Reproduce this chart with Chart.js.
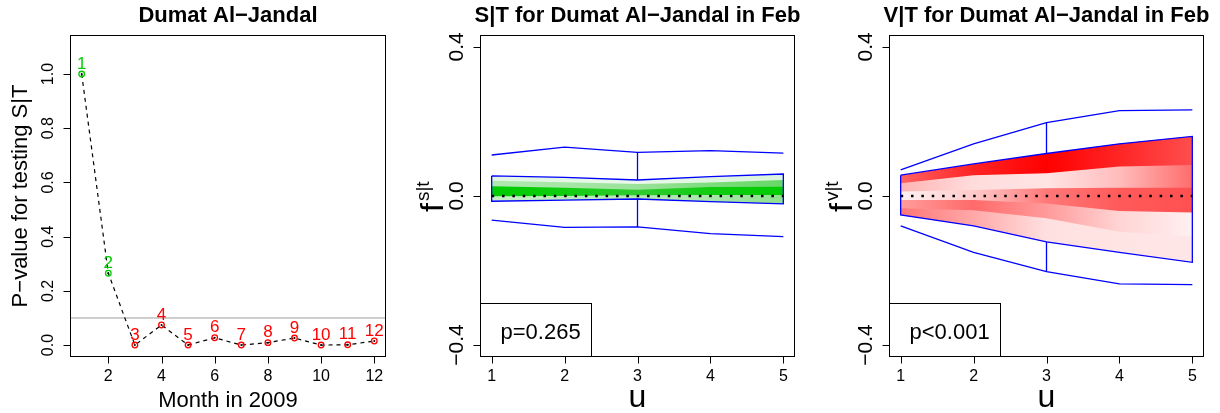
<!DOCTYPE html>
<html lang="en">
<head>
<meta charset="UTF-8">
<title>Dumat Al-Jandal</title>
<script src="https://cdn.jsdelivr.net/npm/chart.js"></script>
<style>
  html,body{margin:0;padding:0;background:#fff;}
  .wrap{position:relative;width:1220px;height:413px;overflow:hidden;background:#fff;}
  .panel{position:absolute;top:0;height:413px;}
  .panel canvas{display:block;}
</style>
</head>
<body>
<div class="wrap">
  <div class="panel" style="left:0;width:410px"><canvas id="pval" width="410" height="413" style="width:410px;height:413px"></canvas></div>
  <div class="panel" style="left:410px;width:400px"><canvas id="st" width="400" height="413" style="width:400px;height:413px"></canvas></div>
  <div class="panel" style="left:810px;width:410px"><canvas id="vt" width="410" height="413" style="width:410px;height:413px"></canvas></div>
</div>
<script>
// ---- data ----
const months = [1, 2, 3, 4, 5, 6, 7, 8, 9, 10, 11, 12];
const pValues = [1.0, 0.265, 0.0, 0.074, 0.0, 0.027, 0.0, 0.009, 0.026, 0.0, 0.001, 0.015];
const alphaLevel = 0.1;
const monthTicks = [2, 4, 6, 8, 10, 12];
const pTicks = [0.0, 0.2, 0.4, 0.6, 0.8, 1.0];

const uValues = [1, 2, 3, 4, 5];
const uTicks = [1, 2, 3, 4, 5];
const fTicks = [-0.4, 0.0, 0.4];
const uMark = 3;
const refLevel = 0;

// S|T in Feb
const stOuterUpper = [0.110, 0.131, 0.117, 0.122, 0.115];
const stOuterLower = [-0.065, -0.084, -0.083, -0.101, -0.109];
const stLevel0 = [0.054, 0.050, 0.043, 0.052, 0.059];
const stLevel1 = [0.041, 0.037, 0.032, 0.036, 0.043];
const stLevel2 = [0.026, 0.022, 0.017, 0.024, 0.025];
const stLevel3 = [-0.001, 0.000, 0.002, 0.003, 0.003];
const stLevel4 = [-0.014, -0.011, -0.008, -0.015, -0.021];
const stPText = 'p=0.265';

// V|T in Feb
const vtOuterUpper = [0.070, 0.140, 0.197, 0.229, 0.231];
const vtOuterLower = [-0.080, -0.151, -0.203, -0.236, -0.238];
const vtLevel0 = [0.056, 0.086, 0.114, 0.140, 0.160];
const vtLevel1 = [0.034, 0.056, 0.061, 0.079, 0.083];
const vtLevel2 = [0.012, 0.016, 0.021, 0.022, 0.022];
const vtLevel3 = [-0.011, -0.011, -0.020, -0.040, -0.044];
const vtLevel4 = [-0.033, -0.038, -0.060, -0.096, -0.109];
const vtLevel5 = [-0.051, -0.080, -0.123, -0.151, -0.178];
const vtPText = 'p<0.001';

// ---- styles ----
const FONT = '"Liberation Sans", Arial, Helvetica, sans-serif';
const GREEN = '#00cd00', RED = '#ff0000', BLUE = '#0000ff';

const greenShades = [
  ['#e2f6e2', '#e4f7e4', '#eaf9ea', '#e0f5e0', '#dcf4dc'],
  ['#b0e8b0', '#a6e6a6', '#9ae29a', '#7cdc7c', '#66d866'],
  ['#00cc00', '#10cc10', '#30cc30', '#10cc10', '#00cc00'],
  ['#c8f0c8', '#bdecbd', '#b8eab8', '#a8e6a8', '#8ee08e']
];
const redShades = [
  ['#ff6262', '#ff2424', '#ff0000', '#ff2525', '#ff4e4e'],
  ['#ffb4b4', '#ffdcdc', '#ffe4e4', '#ffbcbc', '#ff6c6c'],
  ['#fff2f2', '#ffcaca', '#ff7878', '#ff5a5a', '#ff5050'],
  ['#ff9c9c', '#ff6a6a', '#ff9a9a', '#ffd4d4', '#fff0f0'],
  ['#ff7676', '#ffa8a8', '#ffe0e0', '#ffe4e4', '#ffe6e6']
];

const fmt = v => (v < 0 ? '\u2212' : '') + Math.abs(v).toFixed(1);

// R-like frame, ticks, titles
function rAxes(o) {
  return {
    id: 'rAxes',
    beforeDatasetsDraw(chart) {
      if (o.hline === undefined) return;
      const {ctx, chartArea: a, scales: {y}} = chart;
      const py = y.getPixelForValue(o.hline);
      ctx.save();
      ctx.strokeStyle = '#bebebe';
      ctx.lineWidth = 1.4;
      ctx.beginPath();
      ctx.moveTo(a.left, py);
      ctx.lineTo(a.right, py);
      ctx.stroke();
      ctx.restore();
    },
    afterDraw(chart) {
      const {ctx, chartArea: a, scales: {x, y}} = chart;
      ctx.save();
      ctx.strokeStyle = '#000';
      ctx.fillStyle = '#000';
      ctx.lineWidth = 1;
      const L = Math.round(a.left) + 0.5, T = Math.round(a.top) + 0.5;
      const R = Math.round(a.right) - 0.5, B = Math.round(a.bottom) - 0.5;
      ctx.strokeRect(L, T, R - L, B - T);
      ctx.beginPath();
      o.xTicks.forEach(v => {
        const px = Math.round(x.getPixelForValue(v)) + 0.5;
        ctx.moveTo(px, B); ctx.lineTo(px, B + 7);
      });
      o.yTicks.forEach(v => {
        const py = Math.round(y.getPixelForValue(v)) + 0.5;
        ctx.moveTo(L, py); ctx.lineTo(L - 7, py);
      });
      ctx.stroke();

      ctx.textAlign = 'center';
      ctx.textBaseline = 'alphabetic';
      ctx.font = '16px ' + FONT;
      o.xTicks.forEach(v => ctx.fillText(String(v), x.getPixelForValue(v), 381));
      ctx.font = o.yTickFont;
      o.yTicks.forEach(v => {
        ctx.save();
        ctx.translate(a.left - 17, y.getPixelForValue(v));
        ctx.rotate(-Math.PI / 2);
        ctx.fillText(fmt(v), 0, 0);
        ctx.restore();
      });

      const cx = (a.left + a.right) / 2, cy = (a.top + a.bottom) / 2;
      ctx.font = 'bold 22px ' + FONT;
      ctx.fillText(o.title, cx, 22);

      ctx.font = o.xTitleFont;
      ctx.fillText(o.xTitle, cx, 407);

      ctx.save();
      ctx.translate(a.left - o.yTitleGap, cy);
      ctx.rotate(-Math.PI / 2);
      if (o.ySup) {
        // big "f" with a raised superscript right after it
        ctx.textAlign = 'left';
        ctx.font = '32px ' + FONT;
        const wF = ctx.measureText(o.yTitle).width;
        ctx.fillText(o.yTitle, -16, 0);
        ctx.font = '19px ' + FONT;
        ctx.fillText(o.ySup, -16 + wF + 2, -14);
      } else {
        ctx.font = '22px ' + FONT;
        ctx.fillText(o.yTitle, 0, 0);
      }
      ctx.restore();

      if (o.pText) {
        const bx = Math.round(a.left) + 0.5;
        ctx.fillStyle = '#fff';
        ctx.fillRect(bx, 303.5, 111, B - 303.5);
        ctx.strokeRect(bx, 303.5, 111, B - 303.5);
        ctx.fillStyle = '#000';
        ctx.font = '22px ' + FONT;
        ctx.textAlign = 'left';
        ctx.fillText(o.pText, a.left + 20.5, 339);
      }
      ctx.restore();
    }
  };
}

const pointLabels = {
  id: 'pointLabels',
  afterDatasetsDraw(chart) {
    const meta = chart.getDatasetMeta(2);
    const {ctx} = chart;
    ctx.save();
    ctx.font = '17px ' + FONT;
    ctx.textAlign = 'center';
    ctx.textBaseline = 'alphabetic';
    meta.data.forEach((el, i) => {
      ctx.fillStyle = pValues[i] > alphaLevel ? GREEN : RED;
      ctx.fillText(String(months[i]), el.x, el.y - 5.5);
    });
    ctx.restore();
  }
};

const baseOptions = (pad, xr, yr) => ({
  responsive: false,
  animation: false,
  events: [],
  layout: {padding: pad},
  plugins: {legend: {display: false}, tooltip: {enabled: false}, title: {display: false}},
  scales: {
    x: {type: 'linear', min: xr[0], max: xr[1], display: false},
    y: {type: 'linear', min: yr[0], max: yr[1], display: false}
  }
});

// ---- panel 1: p-values by month ----
const pts = months.map((m, i) => ({x: m, y: pValues[i]}));
new Chart(document.getElementById('pval'), {
  type: 'line',
  data: {
    datasets: [
      {data: pts, borderColor: '#000', borderWidth: 1.2, borderDash: [4, 4], pointRadius: 0, fill: false, order: 5},
      {data: pts, showLine: false, pointRadius: 1, pointBackgroundColor: '#000', pointBorderWidth: 0, order: 3},
      {data: pts, showLine: false, pointRadius: 2.8, pointBorderWidth: 1.3,
        pointBackgroundColor: 'rgba(0,0,0,0)',
        pointBorderColor: pValues.map(p => p > alphaLevel ? GREEN : RED), order: 2}
    ]
  },
  options: baseOptions({left: 70, right: 24, top: 35, bottom: 56}, [0.56, 12.44], [-0.044, 1.144]),
  plugins: [rAxes({
    xTicks: monthTicks, yTicks: pTicks, yTickFont: '16px ' + FONT, title: 'Dumat Al\u2212Jandal',
    xTitle: 'Month in 2009', xTitleFont: '22px ' + FONT,
    yTitle: 'P\u2212value for testing S|T', yTitleGap: 43, hline: alphaLevel
  }), pointLabels]
});

// ---- panels 2 and 3: conditional effect cones ----
function gradientFor(chart, cols) {
  const xs = chart.scales.x;
  if (!chart.chartArea || !xs) return cols[0];
  const x0 = xs.getPixelForValue(uValues[0]);
  const x1 = xs.getPixelForValue(uValues[uValues.length - 1]);
  const g = chart.ctx.createLinearGradient(x0, 0, x1, 0);
  uValues.forEach((u, i) => g.addColorStop((xs.getPixelForValue(u) - x0) / (x1 - x0), cols[i]));
  return g;
}

function makeCone(id, title, sup, levels, shades, outerUp, outerLow, pText, pad) {
  const series = arr => uValues.map((u, i) => ({x: u, y: arr[i]}));
  const top = levels[0], bottom = levels[levels.length - 1];
  const m = uValues.indexOf(uMark);
  const outline = series(top).concat(series(bottom).reverse(), [{x: uValues[0], y: top[0]}]);
  const blueLine = data => ({data, borderColor: BLUE, borderWidth: 1.3, pointRadius: 0, fill: false, order: 30});
  const datasets = [
    {data: outline, borderColor: BLUE, borderWidth: 1.3, pointRadius: 0, fill: false, order: 2},
    {data: [{x: uValues[0], y: refLevel}, {x: uValues[uValues.length - 1], y: refLevel}],
      borderColor: '#000', borderWidth: 2.5, borderDash: [2.5, 7.86], borderCapStyle: 'butt',
      pointRadius: 0, fill: false, order: 1},
    blueLine(series(outerUp)),
    blueLine(series(outerLow)),
    blueLine([{x: uMark, y: outerUp[m]}, {x: uMark, y: top[m]}]),
    blueLine([{x: uMark, y: bottom[m]}, {x: uMark, y: outerLow[m]}])
  ];
  const first = datasets.length;
  const bottomIndex = first + levels.length - 1;
  levels.forEach((lv, k) => {
    const last = k === levels.length - 1;
    datasets.push({
      data: series(lv),
      borderWidth: 0,
      borderColor: 'rgba(0,0,0,0)',
      pointRadius: 0,
      fill: last ? false : bottomIndex,
      backgroundColor: last ? 'rgba(0,0,0,0)' : (c => gradientFor(c.chart, shades[k])),
      order: 20 - k
    });
  });
  new Chart(document.getElementById(id), {
    type: 'line',
    data: {datasets},
    options: baseOptions(pad, [0.84, 5.16], [-0.432, 0.432]),
    plugins: [rAxes({
      xTicks: uTicks, yTicks: fTicks, yTickFont: '21px ' + FONT, title,
      xTitle: 'u', xTitleFont: '32px ' + FONT,
      yTitle: 'f', ySup: sup, yTitleGap: 37, pText
    })]
  });
}

makeCone('st', 'S|T for Dumat Al\u2212Jandal in Feb', 's|t',
  [stLevel0, stLevel1, stLevel2, stLevel3, stLevel4], greenShades,
  stOuterUpper, stOuterLower, stPText, {left: 70, right: 15, top: 35, bottom: 56});

makeCone('vt', 'V|T for Dumat Al\u2212Jandal in Feb', 'v|t',
  [vtLevel0, vtLevel1, vtLevel2, vtLevel3, vtLevel4, vtLevel5], redShades,
  vtOuterUpper, vtOuterLower, vtPText, {left: 79, right: 16, top: 35, bottom: 56});
</script>
</body>
</html>
